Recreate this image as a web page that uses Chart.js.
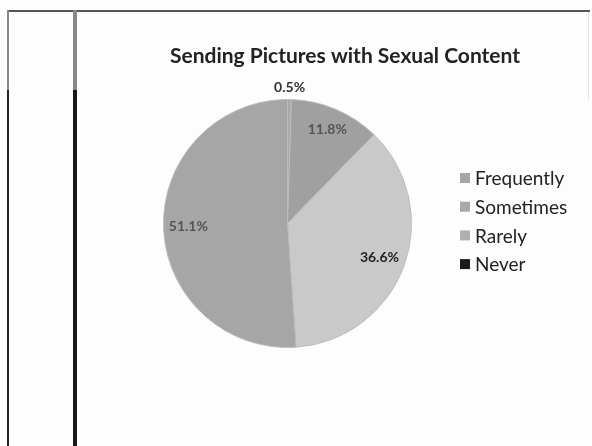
<!DOCTYPE html>
<html>
<head>
<meta charset="utf-8">
<script src="https://cdn.jsdelivr.net/npm/chart.js@4.4.1/dist/chart.umd.min.js"></script>
<style>
  html, body { margin: 0; padding: 0; background: #fdfdfd; }
  #wrap { position: relative; width: 592px; height: 446px; overflow: hidden; }
  #myChart { position: absolute; left: 0; top: 0; }
  .ln { position: absolute; }
</style>
</head>
<body>
<div id="wrap">
  <div class="ln" style="left:7px; top:10px; width:583px; height:2px; background:#555;"></div>
  <div class="ln" style="left:7px; top:10px; width:2px; height:80px; background:#888;"></div>
  <div class="ln" style="left:7px; top:90px; width:2px; height:356px; background:#222;"></div>
  <div class="ln" style="left:73px; top:10px; width:4px; height:80px; background:#888;"></div>
  <div class="ln" style="left:73px; top:90px; width:4px; height:356px; background:#1a1a1a;"></div>
  <div class="ln" style="left:588px; top:12px; width:1px; height:88px; background:#e4e4e4;"></div>
  <canvas id="myChart" width="592" height="446"></canvas>
</div>
<script>
// chart data
var title = 'Sending Pictures with Sexual Content';
var categories = ['Frequently', 'Sometimes', 'Rarely', 'Never'];
var values = [0.5, 11.8, 36.6, 51.1];

// greys as they came out of the scan
var sliceColors = ['#a9a9a9', '#a0a0a0', '#c9c9c9', '#a6a6a6'];
var legendColors = ['#a6a6a6', '#a9a9a9', '#b0b0b0', '#1a1a1a'];
var labelDist = [1.1, 0.82, 0.79, 0.8];
var labelColors = ['#333', '#555', '#222', '#555'];

var fontFam = 'Lato, "DejaVu Sans", sans-serif';

// title, legend and percent labels drawn on top of the pie
var extras = {
    id: 'extras',
    afterDatasetsDraw: function(chart) {
        var c = chart.ctx;
        c.save();

        // title
        c.fillStyle = '#222';
        c.font = 'bold 21px ' + fontFam;
        c.textAlign = 'center';
        c.textBaseline = 'alphabetic';
        c.fillText(title, 345, 63);

        // percent labels
        var arcs = chart.getDatasetMeta(0).data;
        c.font = 'bold 14px ' + fontFam;
        c.textBaseline = 'middle';
        arcs.forEach(function(arc, i) {
            var mid = (arc.startAngle + arc.endAngle) / 2;
            var r = arc.outerRadius * labelDist[i];
            c.fillStyle = labelColors[i];
            c.fillText(values[i].toFixed(1) + '%', arc.x + Math.cos(mid) * r, arc.y + Math.sin(mid) * r);
        });

        // legend
        c.font = '19px ' + fontFam;
        c.textAlign = 'left';
        categories.forEach(function(name, i) {
            var y = 178 + i * 28.7;
            c.fillStyle = legendColors[i];
            c.fillRect(460, y - 5, 10, 10);
            c.fillStyle = '#222';
            c.fillText(name, 475, y + 1);
        });
        c.restore();
    }
};

var ctx = document.getElementById('myChart').getContext('2d');
var myChart = new Chart(ctx, {
    type: 'pie',
    data: {
        labels: categories,
        datasets: [{
            data: values,
            backgroundColor: sliceColors,
            borderColor: '#bdbdbd',
            borderWidth: 1
        }]
    },
    options: {
        responsive: false,
        animation: false,
        layout: { padding: { left: 163, top: 99, right: 180, bottom: 98 } },
        plugins: {
            legend: { display: false },
            title: { display: false },
            tooltip: { enabled: false }
        }
    },
    plugins: [extras]
});
</script>
</body>
</html>
